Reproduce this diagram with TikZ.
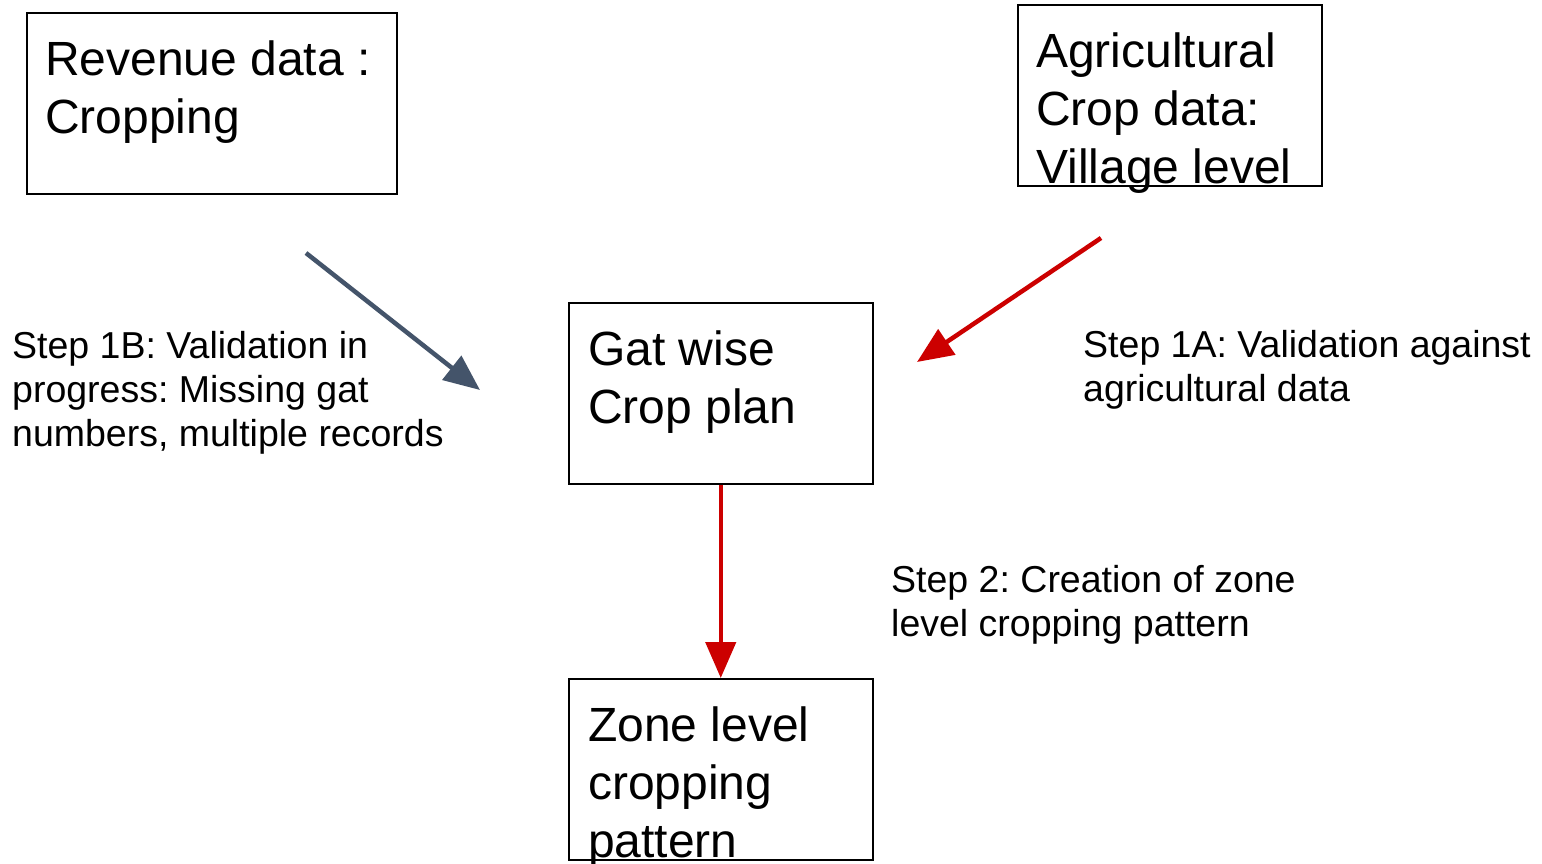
\documentclass[tikz,border=0pt]{standalone}
\usepackage{fontspec}
\setmainfont{Liberation Sans}
\usetikzlibrary{arrows.meta}
\definecolor{slate}{HTML}{44546A}
\definecolor{arrred}{HTML}{CC0000}
\frenchspacing
\begin{document}
\begin{tikzpicture}[x=1pt,y=-1pt,
  box/.style={draw=black, line width=1.5pt, inner sep=0pt, anchor=north west},
  big/.style={anchor=base west, inner sep=0pt, font=\fontsize{48}{58}\selectfont},
  small/.style={anchor=base west, inner sep=0pt, font=\fontsize{37.5}{44}\selectfont},
  flow/.style={line width=4.5pt, -{Triangle[length=36pt,width=30pt]}}]
\useasboundingbox (0,0) rectangle (1542,863);
\fill[white] (0,0) rectangle (1542,863);

% boxes
\node[box, minimum width=370pt, minimum height=181pt] (rev) at (26,12) {};
\node[box, minimum width=304pt, minimum height=181pt] (agr) at (1017,4) {};
\node[box, minimum width=304pt, minimum height=181pt] (gat) at (568,302) {};
\node[box, minimum width=304pt, minimum height=181pt] (zone) at (568,678) {};

% box texts
\node[big] (rev1) at (45,75) {Revenue data :};
\node[big] (rev2) at (45,133) {Cropping};
\node[big] (agr1) at (1036,67) {Agricultural};
\node[big] (agr2) at (1036,125) {Crop data:};
\node[big] (agr3) at (1036,183) {Village level};
\node[big] (gat1) at (588,365) {Gat wise};
\node[big] (gat2) at (588,423) {Crop plan};
\node[big] (zone1) at (588,741) {Zone level};
\node[big] (zone2) at (588,799) {cropping};
\node[big] (zone3) at (588,857) {pattern};

% step labels
\node[small] (s1b1) at (12,358) {Step 1B: Validation in};
\node[small] (s1b2) at (12,402) {progress: Missing gat};
\node[small] (s1b3) at (12,446) {numbers, multiple records};
\node[small] (s1a1) at (1083,357) {Step 1A: Validation against};
\node[small] (s1a2) at (1083,401) {agricultural data};
\node[small] (s21) at (891,592) {Step 2: Creation of zone};
\node[small] (s22) at (891,636) {level cropping pattern};

% arrows
\coordinate (bS) at (306,253);
\coordinate (bE) at (480,390);
\coordinate (rS) at (1101,238);
\coordinate (rE) at (917,362);
\draw[flow, draw=slate, fill=slate] (bS) -- (bE);
\draw[flow, draw=arrred, fill=arrred] (rS) -- (rE);
\draw[flow, draw=arrred, fill=arrred] (gat.south) -- (zone.north);
\end{tikzpicture}
\end{document}
